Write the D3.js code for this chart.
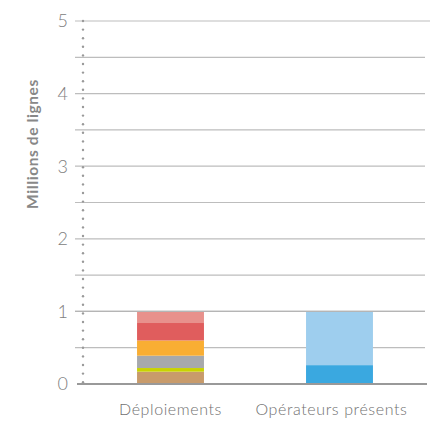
<!DOCTYPE html>
<html><head><meta charset="utf-8">
<script src="https://cdn.jsdelivr.net/npm/d3@7"></script>
<style>body{margin:0;background:#fff;} svg{display:block;}</style>
</head><body>
<script>
const categories = ["Déploiements", "Opérateurs présents"];
const seriesDeploiements = [0.17, 0.05, 0.17, 0.21, 0.24, 0.16];
const seriesOperateurs = [0.26, 0.74];
const colorsDeploiements = ["#C89B6B", "#C9D300", "#A7A9AC", "#F9AE33", "#E05D5D", "#E8918C"];
const colorsOperateurs = ["#3AA8E0", "#9ECEEE"];
const yTicks = [0, 1, 2, 3, 4, 5];
const yTitle = "Millions de lignes";

const W = 430, H = 422;
const svg = d3.select("body").append("svg").attr("width", W).attr("height", H);
const font = "Lato, 'Open Sans', sans-serif";

const y = d3.scaleLinear().domain([0, 5]).range([384, 21]);
const x = d3.scaleBand().domain(categories).range([85, 425]).paddingInner(0.604).paddingOuter(0.308);

// gridlines every 0.5
const grid = d3.range(0.5, 5.01, 0.5);
svg.append("g").selectAll("line").data(grid).join("line")
  .attr("x1", 75).attr("x2", d => d === 5 ? 430 : 425)
  .attr("y1", d => y(d)).attr("y2", d => y(d))
  .attr("stroke", "#bdbdbd").attr("stroke-width", 1.2);

// stacks
function drawStack(cat, vals, cols) {
  let acc = 0;
  const segs = vals.map((v, i) => { const s = {y0: acc, y1: acc + v, c: cols[i]}; acc += v; return s; });
  svg.append("g").selectAll("rect").data(segs).join("rect")
    .attr("x", x(cat)).attr("width", x.bandwidth())
    .attr("y", d => y(d.y1)).attr("height", d => y(d.y0) - y(d.y1))
    .attr("fill", d => d.c);
}
drawStack(categories[0], seriesDeploiements, colorsDeploiements);
drawStack(categories[1], seriesOperateurs, colorsOperateurs);

// top line at 1 over bars
svg.append("line").attr("x1", 75).attr("x2", 425).attr("y1", y(1)).attr("y2", y(1))
  .attr("stroke", "#b5b5b5").attr("stroke-width", 1.2);

// baseline
svg.append("line").attr("x1", 77).attr("x2", 427).attr("y1", y(0)).attr("y2", y(0))
  .attr("stroke", "#999").attr("stroke-width", 2);

// dotted axis
const dots = d3.range(y(5), y(0), 8.6);
svg.append("g").selectAll("circle").data(dots).join("circle")
  .attr("cx", 83).attr("cy", d => d).attr("r", 1.2).attr("fill", "#999");

// y tick labels
svg.append("g").selectAll("text").data(yTicks).join("text")
  .attr("x", 68).attr("y", d => y(d)).attr("dy", "0.35em")
  .attr("text-anchor", "end").attr("font-family", font).attr("font-weight", 300)
  .attr("font-size", 18).attr("fill", "#808080").text(d => d);

// y title
svg.append("text").attr("transform", `translate(38,144) rotate(-90)`)
  .attr("text-anchor", "middle").attr("font-family", font).attr("font-weight", 700)
  .attr("font-size", 15.5).attr("letter-spacing", 0.6).attr("fill", "#888").text(yTitle);

// x labels
svg.append("g").selectAll("text").data(categories).join("text")
  .attr("x", d => x(d) + x.bandwidth() / 2 - (d === categories[1] ? 8 : 0))
  .attr("y", 415).attr("text-anchor", "middle").attr("font-family", font)
  .attr("font-weight", 300)
  .attr("font-size", 16).attr("letter-spacing", 0.6).attr("fill", "#707070").text(d => d);
</script>
</body></html>
